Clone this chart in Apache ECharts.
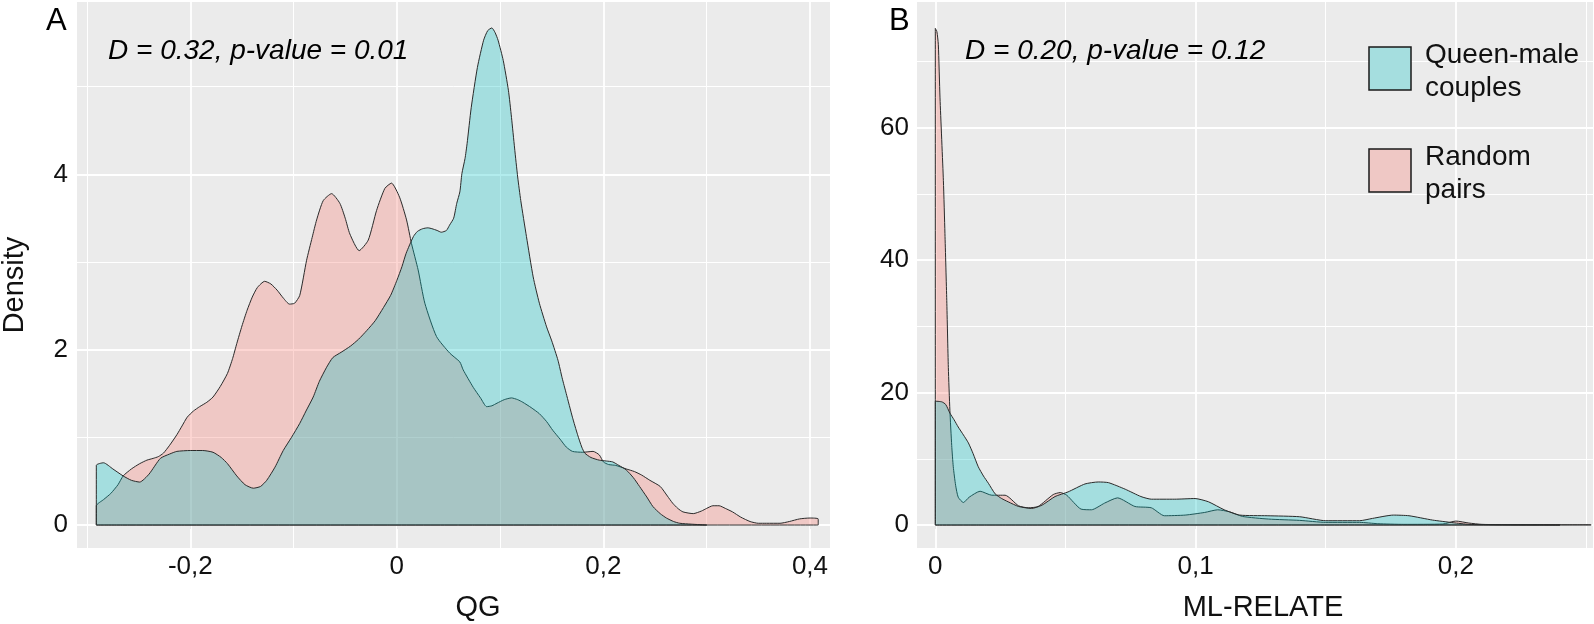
<!DOCTYPE html>
<html>
<head>
<meta charset="utf-8">
<script src="https://cdn.jsdelivr.net/npm/echarts@6/dist/echarts.min.js"></script>
<style>
html,body{margin:0;padding:0;background:#fff;}
#chart{width:1594px;height:624px;}
</style>
</head>
<body>
<div id="chart"></div>
<script>
// ---------------- DATA ----------------
const seriesNames = ['Queen-male couples', 'Random pairs'];
const panelLetters = ['A', 'B'];
const annotations = ['D = 0.32, p-value = 0.01', 'D = 0.20, p-value = 0.12'];
const axisTitles = { qgX: 'QG', mlX: 'ML-RELATE', y: 'Density' };

// Panel A (QG) density outlines [x, density]
const qgQueen = [[-0.291,0],[-0.291,0.68],[-0.284,0.71],[-0.275,0.64],[-0.265,0.56],[-0.257,0.51],[-0.249,0.49],[-0.240,0.58],[-0.229,0.76],[-0.220,0.81],[-0.213,0.84],[-0.200,0.85],[-0.188,0.85],[-0.178,0.83],[-0.170,0.77],[-0.164,0.70],[-0.155,0.56],[-0.147,0.46],[-0.139,0.42],[-0.132,0.44],[-0.126,0.51],[-0.118,0.66],[-0.110,0.85],[-0.102,1.00],[-0.094,1.16],[-0.088,1.30],[-0.081,1.46],[-0.075,1.64],[-0.068,1.80],[-0.062,1.91],[-0.054,1.97],[-0.045,2.04],[-0.037,2.12],[-0.029,2.22],[-0.021,2.33],[-0.013,2.48],[-0.006,2.62],[0.000,2.79],[0.005,2.95],[0.009,3.10],[0.016,3.29],[0.020,3.35],[0.025,3.38],[0.030,3.39],[0.034,3.38],[0.039,3.36],[0.043,3.34],[0.048,3.36],[0.051,3.42],[0.055,3.50],[0.058,3.67],[0.061,3.80],[0.063,4.01],[0.066,4.18],[0.068,4.35],[0.072,4.76],[0.078,5.22],[0.084,5.53],[0.088,5.64],[0.092,5.67],[0.095,5.62],[0.098,5.53],[0.103,5.30],[0.108,4.96],[0.111,4.65],[0.114,4.30],[0.117,3.97],[0.120,3.70],[0.1255,3.29],[0.132,2.83],[0.138,2.53],[0.145,2.26],[0.150,2.10],[0.156,1.88],[0.160,1.68],[0.164,1.50],[0.170,1.23],[0.175,1.03],[0.179,0.89],[0.182,0.82],[0.188,0.77],[0.196,0.74],[0.203,0.73],[0.209,0.72],[0.215,0.68],[0.222,0.63],[0.229,0.54],[0.235,0.44],[0.242,0.32],[0.248,0.21],[0.255,0.13],[0.261,0.08],[0.268,0.04],[0.274,0.02],[0.285,0.01],[0.300,0.0],[-0.291,0]];
const qgRandom = [[-0.291,0],[-0.291,0.22],[-0.284,0.29],[-0.277,0.36],[-0.270,0.46],[-0.265,0.56],[-0.257,0.64],[-0.249,0.70],[-0.242,0.74],[-0.236,0.76],[-0.231,0.78],[-0.226,0.82],[-0.220,0.91],[-0.213,1.03],[-0.208,1.13],[-0.203,1.23],[-0.197,1.30],[-0.191,1.35],[-0.184,1.40],[-0.178,1.46],[-0.171,1.58],[-0.164,1.73],[-0.159,1.90],[-0.155,2.07],[-0.150,2.27],[-0.145,2.45],[-0.140,2.60],[-0.135,2.71],[-0.128,2.78],[-0.122,2.75],[-0.116,2.68],[-0.110,2.59],[-0.104,2.52],[-0.099,2.53],[-0.094,2.62],[-0.0874,3.02],[-0.082,3.28],[-0.0777,3.48],[-0.0713,3.70],[-0.0632,3.78],[-0.0552,3.67],[-0.050,3.50],[-0.0455,3.32],[-0.0365,3.13],[-0.0277,3.25],[-0.0196,3.59],[-0.0116,3.84],[-0.0052,3.90],[0.0026,3.74],[0.0094,3.48],[0.0142,3.21],[0.0206,2.91],[0.0271,2.53],[0.0384,2.15],[0.0513,1.96],[0.061,1.86],[0.0642,1.77],[0.074,1.57],[0.081,1.45],[0.087,1.35],[0.092,1.36],[0.097,1.39],[0.104,1.43],[0.111,1.45],[0.117,1.43],[0.122,1.40],[0.130,1.34],[0.138,1.27],[0.145,1.18],[0.151,1.08],[0.158,0.98],[0.164,0.89],[0.170,0.84],[0.180,0.83],[0.190,0.84],[0.196,0.80],[0.200,0.72],[0.205,0.69],[0.212,0.68],[0.222,0.64],[0.230,0.61],[0.237,0.57],[0.245,0.51],[0.255,0.44],[0.262,0.33],[0.267,0.25],[0.272,0.19],[0.277,0.15],[0.287,0.13],[0.295,0.16],[0.300,0.19],[0.306,0.22],[0.312,0.22],[0.318,0.19],[0.325,0.15],[0.333,0.09],[0.342,0.04],[0.350,0.02],[0.358,0.02],[0.371,0.02],[0.380,0.04],[0.390,0.07],[0.400,0.08],[0.408,0.07],[0.408,0],[-0.291,0]];

// Panel B (ML-RELATE) density outlines [x, density]
const mlQueen = [[0,0],[0,18.7],[0.0025,18.6],[0.004,18.2],[0.0056,16.9],[0.0072,15.9],[0.0088,14.8],[0.0108,13.6],[0.0127,12.4],[0.0145,10.8],[0.0165,8.8],[0.0185,7.4],[0.0204,6.3],[0.023,4.7],[0.0255,4.0],[0.028,3.5],[0.032,2.8],[0.037,2.5],[0.041,3.0],[0.046,4.3],[0.051,5.0],[0.0575,6.2],[0.0626,6.5],[0.0665,6.4],[0.073,5.4],[0.079,4.3],[0.083,3.9],[0.092,3.9],[0.0998,4.0],[0.105,3.5],[0.111,2.3],[0.117,1.5],[0.1275,1.4],[0.140,1.25],[0.150,0.65],[0.163,0.65],[0.168,1.0],[0.176,1.5],[0.182,1.4],[0.191,0.75],[0.199,0.35],[0.205,0.1],[0.215,0.03],[0.233,0.02],[0.240,0],[0,0]];
const mlRandom = [[0,0],[0,75],[0.0006,74.5],[0.00115,72.6],[0.0018,64.5],[0.0031,52],[0.0037,44],[0.0044,33.9],[0.005,23.8],[0.0056,17.3],[0.0063,12],[0.0069,8.8],[0.0078,6],[0.0088,4.2],[0.0108,3.4],[0.013,4.2],[0.0172,5.1],[0.0217,4.5],[0.0268,4.5],[0.032,2.9],[0.0357,2.6],[0.0395,2.8],[0.0453,4.6],[0.048,4.9],[0.0505,4.5],[0.056,2.4],[0.060,2.3],[0.065,3.3],[0.070,4.1],[0.0767,2.8],[0.083,2.6],[0.088,1.4],[0.096,1.5],[0.1035,1.9],[0.1085,2.3],[0.113,2.0],[0.118,1.3],[0.128,0.9],[0.140,0.7],[0.150,0.4],[0.163,0.4],[0.170,0.2],[0.180,0.1],[0.195,0.15],[0.200,0.6],[0.205,0.3],[0.210,0.1],[0.225,0.03],[0.252,0.02],[0.252,0],[0,0]];

// Tick labels / grid breaks
const qgXTicks = [-0.2, 0, 0.2, 0.4];
const qgXMinor = [-0.3, -0.1, 0.1, 0.3];
const qgYTicks = [0, 2, 4];
const qgYMinor = [1, 3, 5];
const mlXTicks = [0, 0.1, 0.2];
const mlXMinor = [0.05, 0.15, 0.25];
const mlYTicks = [0, 20, 40, 60];
const mlYMinor = [10, 30, 50, 70];

// ---------------- STYLE ----------------
const FONT = '"Liberation Sans", Arial, Helvetica, sans-serif';
const fillColors = ['#00BFC4', '#F8766D'];
const legendColors = ['#A5DEDF', '#EFC8C5'];
const fmt = v => (v === 0 ? '0' : String(v).replace('.', ','));

function xAxisCfg(gridIndex, min, max, ticks, name, namePadLeft) {
  return {
    type: 'value', gridIndex, min, max,
    axisLine: { show: false },
    axisTick: { show: true, length: 4, customValues: ticks, lineStyle: { color: '#333', width: 1 } },
    axisLabel: { customValues: ticks, formatter: fmt, fontSize: 26, fontFamily: FONT, color: '#111', margin: 6 },
    splitLine: { show: false },
    name, nameLocation: 'middle', nameGap: 45,
    nameTextStyle: { fontSize: 29, fontFamily: FONT, color: '#111', padding: [0, 0, 0, namePadLeft] }
  };
}
function yAxisCfg(gridIndex, min, max, ticks, name, margin) {
  return {
    type: 'value', gridIndex, min, max,
    axisLine: { show: false },
    axisTick: { show: true, length: 4, customValues: ticks, lineStyle: { color: '#333', width: 1 } },
    axisLabel: { customValues: ticks, formatter: fmt, fontSize: 26, fontFamily: FONT, color: '#111', margin },
    splitLine: { show: false },
    name, nameLocation: 'middle', nameGap: 48,
    nameTextStyle: { fontSize: 29, fontFamily: FONT, color: '#111', padding: [0, 20, 0, 0] }
  };
}
function gridSeries(idx, xMajor, xMinor, yMajor, yMinor) {
  const d = [];
  xMinor.forEach(v => d.push({ xAxis: v, lineStyle: { width: 1 } }));
  yMinor.forEach(v => d.push({ yAxis: v, lineStyle: { width: 1 } }));
  xMajor.forEach(v => d.push({ xAxis: v, lineStyle: { width: 1.8 } }));
  yMajor.forEach(v => d.push({ yAxis: v, lineStyle: { width: 1.8 } }));
  return {
    type: 'line', xAxisIndex: idx, yAxisIndex: idx, data: [], z: 1, silent: true,
    markLine: {
      z: 1, silent: true, symbol: ['none', 'none'], label: { show: false }, animation: false,
      lineStyle: { color: '#FFFFFF', type: 'solid', opacity: 1 },
      emphasis: { disabled: true },
      data: d
    }
  };
}
function densSeries(idx, name, data, colorIdx, z) {
  return {
    type: 'line', name, xAxisIndex: idx, yAxisIndex: idx, data,
    showSymbol: false, symbol: 'none', smooth: 0.2, z,
    color: fillColors[colorIdx],
    lineStyle: { color: '#2a2a2a', width: 1 },
    areaStyle: { color: fillColors[colorIdx], opacity: 0.3 },
    emphasis: { disabled: true }
  };
}

const textBase = { fontFamily: FONT, fill: '#000' };
const graphics = [
  { type: 'text', z: 100, left: 46, top: 6, style: Object.assign({ text: panelLetters[0], fontSize: 31 }, textBase) },
  { type: 'text', z: 100, left: 889, top: 6, style: Object.assign({ text: panelLetters[1], fontSize: 31 }, textBase) },
  { type: 'text', z: 100, x: 108, y: 51, style: Object.assign({ text: annotations[0], fontSize: 28, fontStyle: 'italic', verticalAlign: 'middle' }, textBase) },
  { type: 'text', z: 100, x: 965, y: 51, style: Object.assign({ text: annotations[1], fontSize: 28, fontStyle: 'italic', verticalAlign: 'middle' }, textBase) }
];
// legend keys
const legendTops = [47, 149];
seriesNames.forEach((n, i) => {
  graphics.push({ type: 'rect', z: 100, shape: { x: 1369, y: legendTops[i], width: 42, height: 43 },
    style: { fill: legendColors[i], stroke: '#1a1a1a', lineWidth: 1.5 } });
  const parts = n.split(' ');
  parts.forEach((p, j) => {
    graphics.push({ type: 'text', z: 100, x: 1425, y: legendTops[i] + 8 + j * 33,
      style: Object.assign({ text: p, fontSize: 28, verticalAlign: 'middle' }, textBase, { fill: '#111' }) });
  });
});

const option = {
  animation: false,
  backgroundColor: '#FFFFFF',
  grid: [
    { left: 77, top: 2, width: 753, height: 546, show: true, backgroundColor: '#EBEBEB', borderWidth: 0, containLabel: false, outerBoundsMode: 'none' },
    { left: 917, top: 2, width: 676, height: 546, show: true, backgroundColor: '#EBEBEB', borderWidth: 0, containLabel: false, outerBoundsMode: 'none' }
  ],
  xAxis: [
    xAxisCfg(0, -0.3097, 0.4194, qgXTicks, axisTitles.qgX, 49),
    xAxisCfg(1, -0.00704, 0.2527, mlXTicks, axisTitles.mlX, 16)
  ],
  yAxis: [
    yAxisCfg(0, -0.262, 5.966, qgYTicks, axisTitles.y, 9),
    yAxisCfg(1, -3.47, 78.98, mlYTicks, '', 8)
  ],
  series: [
    gridSeries(0, qgXTicks, qgXMinor, qgYTicks, qgYMinor),
    gridSeries(1, mlXTicks, mlXMinor, mlYTicks, mlYMinor),
    densSeries(0, seriesNames[1], qgRandom, 1, 3),
    densSeries(0, seriesNames[0], qgQueen, 0, 4),
    densSeries(1, seriesNames[1], mlRandom, 1, 3),
    densSeries(1, seriesNames[0], mlQueen, 0, 4)
  ],
  graphic: graphics
};

const chart = echarts.init(document.getElementById('chart'), null, { renderer: 'canvas' });
chart.setOption(option);
</script>
</body>
</html>
